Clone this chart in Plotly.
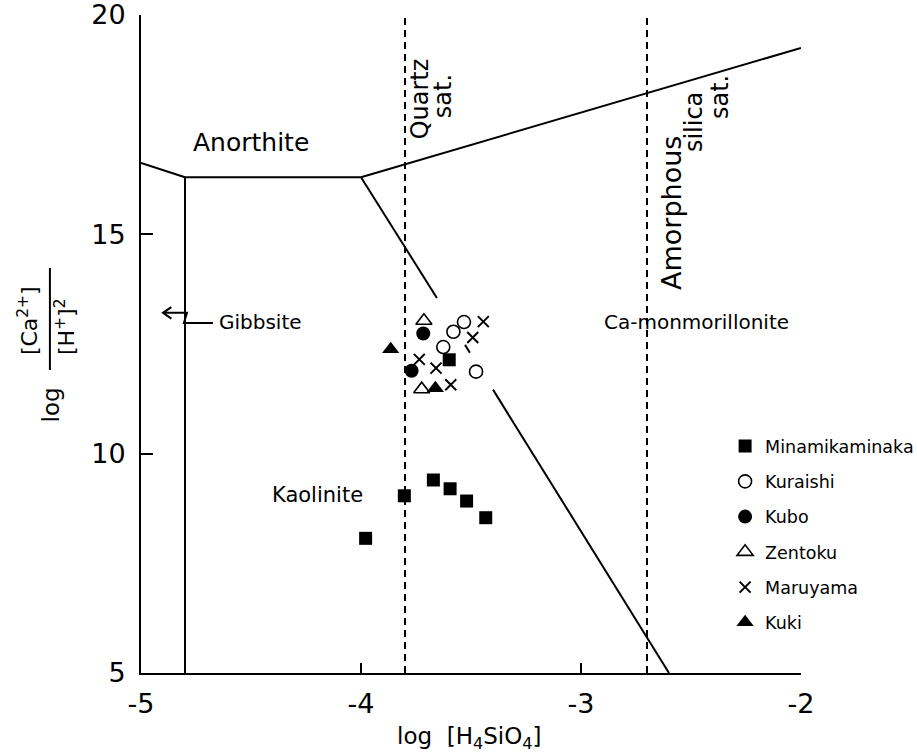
import plotly.graph_objects as go

FONT = "DejaVu Sans"

# ---- data (log [H4SiO4], log [Ca2+]/[H+]^2) ----
mina_x = [-3.599, -3.671, -3.595, -3.520, -3.433, -3.803, -3.979]
mina_y = [12.14, 9.40, 9.20, 8.92, 8.54, 9.04, 8.07]
kura_x = [-3.532, -3.580, -3.626, -3.477]
kura_y = [13.00, 12.78, 12.43, 11.87]
kubo_x = [-3.717, -3.770]
kubo_y = [12.74, 11.89]
zent_x = [-3.714, -3.724]
zent_y = [13.03, 11.47]
maru_x = [-3.444, -3.492, -3.735, -3.659, -3.592]
maru_y = [13.01, 12.65, 12.15, 11.95, 11.57]
kuki_x = [-3.865, -3.662]
kuki_y = [12.38, 11.49]

# ---- stability-field boundaries ----
anor_gibb_x = [-5.0, -4.8]
anor_gibb_y = [16.63, 16.3]
gibb_kaol_x = [-4.8, -4.8]
gibb_kaol_y = [16.3, 5.0]
anor_kaol_x = [-4.8, -4.0]
anor_kaol_y = [16.3, 16.3]
anor_camont_x = [-4.0, -2.0]
anor_camont_y = [16.3, 19.25]
kaol_camont_x = [-4.0, -3.655, None, -3.527, -3.505, None, -3.4, -2.6]
kaol_camont_y = [16.3, 13.55, None, 12.48, 12.30, None, 11.46, 5.0]

quartz_sat = -3.8
amorph_sat = -2.7
sat_top = 19.93

x_ticks = [-5, -4, -3, -2]
x_ticktext = ["-5", "-4", "-3", "-2"]
y_ticks = [5, 10, 15, 20]

fig = go.Figure()

line_style = dict(color="black", width=2)
for xs, ys in [(anor_gibb_x, anor_gibb_y), (gibb_kaol_x, gibb_kaol_y),
               (anor_kaol_x, anor_kaol_y), (anor_camont_x, anor_camont_y),
               (kaol_camont_x, kaol_camont_y)]:
    fig.add_trace(go.Scatter(x=xs, y=ys, mode="lines", line=line_style,
                             showlegend=False, hoverinfo="skip"))

for xv in [quartz_sat, amorph_sat]:
    fig.add_trace(go.Scatter(x=[xv, xv], y=[5, sat_top], mode="lines",
                             line=dict(color="black", width=2, dash="7px,5px"),
                             showlegend=False, hoverinfo="skip"))

# Gibbsite pointer
gib_arrow_x = [-4.673, -4.805, -4.791, -4.9]
gib_arrow_y = [12.98, 12.98, 13.21, 13.21]
fig.add_trace(go.Scatter(x=gib_arrow_x, y=gib_arrow_y, mode="lines",
                         line=dict(color="black", width=2),
                         showlegend=False, hoverinfo="skip"))
fig.add_trace(go.Scatter(x=[-4.862, -4.9, -4.862], y=[13.34, 13.21, 13.08], mode="lines",
                         line=dict(color="black", width=2),
                         showlegend=False, hoverinfo="skip"))

series = [
    ("Minamikaminaka", mina_x, mina_y, dict(symbol="square", size=13, color="black")),
    ("Kuraishi", kura_x, kura_y, dict(symbol="circle-open", size=13, color="black", line=dict(width=1.6))),
    ("Kubo", kubo_x, kubo_y, dict(symbol="circle", size=14, color="black")),
    ("Zentoku", zent_x, zent_y, dict(symbol="triangle-up-open", size=14, color="black", line=dict(width=1.6))),
    ("Maruyama", maru_x, maru_y, dict(symbol="x-thin", size=11, color="black", line=dict(width=2, color="black"))),
    ("Kuki", kuki_x, kuki_y, dict(symbol="triangle-up", size=15, color="black")),
]
for i, (name, xs, ys, mk) in enumerate(series):
    fig.add_trace(go.Scatter(x=xs, y=ys, mode="markers", name=name, marker=mk,
                             legendgroup=f"g{i}"))

ann = []
def txt(x, y, s, size=20, angle=0, xanchor="center", ref="data"):
    d = dict(x=x, y=y, text=s, showarrow=False, textangle=angle,
             font=dict(family=FONT, size=size, color="black"),
             xanchor=xanchor, yanchor="middle")
    if ref == "paper":
        d.update(xref="paper", yref="paper")
    ann.append(d)

txt(-4.5, 17.1, "Anorthite", 25)
txt(-3.732, 18.1, "Quartz", 24, -90)
txt(-3.627, 18.15, "sat.", 24, -90)
txt(-2.586, 15.49, "Amorphous", 27, -90)
txt(-2.486, 17.56, "silica", 24, -90)
txt(-2.368, 18.13, "sat.", 24, -90)
txt(-4.655, 13.0, "Gibbsite", 20, xanchor="left")
txt(-4.2, 9.06, "Kaolinite", 21)
txt(-2.477, 13.0, "Ca-monmorillonite", 20)

# axis titles
txt(0.498, -0.099, "log  [H<sub>4</sub>SiO<sub>4</sub>]", 23, ref="paper")
txt(-0.136, 0.407, "log", 23, -90, ref="paper")
txt(-0.171, 0.535, "[Ca<sup>2+</sup>]", 22, -90, ref="paper")
txt(-0.115, 0.526, "[H<sup>+</sup>]<sup>2</sup>", 22, -90, ref="paper")

fig.update_layout(
    width=917, height=756,
    margin=dict(l=141, r=116, t=15, b=83, autoexpand=False),
    paper_bgcolor="white", plot_bgcolor="white",
    font=dict(family=FONT, color="black"),
    annotations=ann,
    shapes=[dict(type="line", xref="paper", yref="paper", x0=-0.138, x1=-0.138,
                 y0=0.4605, y1=0.6155, line=dict(color="black", width=2))],
    legend=dict(x=0.885, y=0.372, xanchor="left", yanchor="top",
                font=dict(family=FONT, size=17.5, color="black"),
                bgcolor="rgba(0,0,0,0)", borderwidth=0,
                traceorder="grouped", tracegroupgap=9.5),
    xaxis=dict(range=[-5, -2], tickvals=x_ticks, ticktext=x_ticktext,
               ticks="inside", ticklen=10, tickwidth=2,
               tickcolor="black", showline=True, linecolor="black", linewidth=2,
               showgrid=False, zeroline=False, tickfont=dict(size=27),
               ticklabelstandoff=6, ticklabeloverflow="allow"),
    yaxis=dict(range=[5, 20], tickvals=y_ticks, ticks="inside", ticklen=12, tickwidth=2,
               tickcolor="black", showline=True, linecolor="black", linewidth=2,
               showgrid=False, zeroline=False, tickfont=dict(size=27),
               ticklabelstandoff=8, ticklabeloverflow="allow"),
)

fig.write_html("out.html", config={"displayModeBar": False},
               post_script="document.body.style.margin='0';document.body.style.overflow='hidden';")
